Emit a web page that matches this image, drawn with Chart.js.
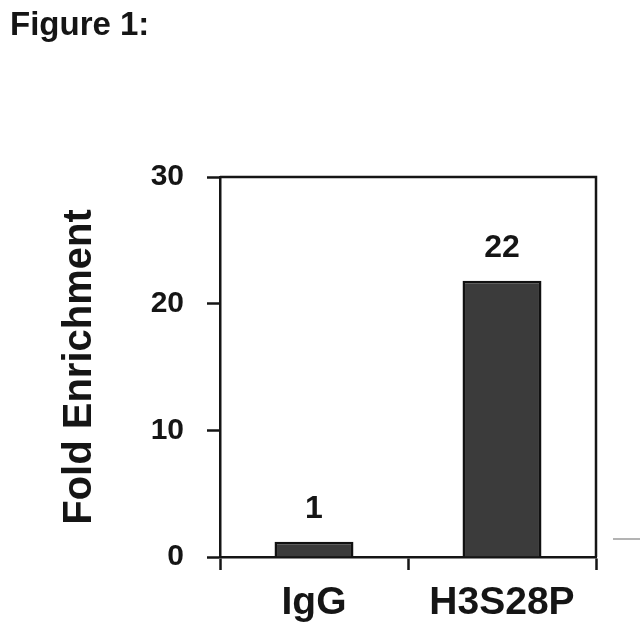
<!DOCTYPE html>
<html>
<head>
<meta charset="utf-8">
<script src="https://cdn.jsdelivr.net/npm/chart.js@4"></script>
<style>
  body { margin: 0; background: #fff; }
  canvas { display: block; }
</style>
</head>
<body>
<canvas id="chart" width="640" height="642"></canvas>
<script>
const categories = ["IgG", "H3S28P"];
const foldValues = [1.2, 21.8];
const valueLabels = ["1", "22"];
const yTicks = [0, 10, 20, 30];

const ink = "#151515";
const font = "'Liberation Sans', Arial, sans-serif";

// frame on top/right, bar value labels, figure caption
const extras = {
    id: "extras",
    afterDraw(chart) {
        const ctx = chart.ctx;
        const area = chart.chartArea;
        ctx.save();

        ctx.strokeStyle = ink;
        ctx.lineWidth = 2.5;
        ctx.beginPath();
        ctx.moveTo(area.left, area.top);
        ctx.lineTo(area.right, area.top);
        ctx.lineTo(area.right, area.bottom);
        ctx.stroke();

        ctx.strokeStyle = "#9a9a9a";
        ctx.lineWidth = 1.5;
        ctx.beginPath();
        ctx.moveTo(area.right + 17, area.bottom - 18);
        ctx.lineTo(640, area.bottom - 18);
        ctx.stroke();

        ctx.fillStyle = ink;
        ctx.font = "bold 32px " + font;
        ctx.textAlign = "center";
        ctx.textBaseline = "alphabetic";
        chart.getDatasetMeta(0).data.forEach((bar, i) => {
            ctx.fillText(valueLabels[i], bar.x, bar.y - 24);
        });

        ctx.font = "bold 33px " + font;
        ctx.textAlign = "left";
        ctx.fillText("Figure 1:", 10, 35);
        ctx.restore();
    }
};

new Chart(document.getElementById("chart"), {
    type: "bar",
    data: {
        labels: categories,
        datasets: [{
            data: foldValues,
            backgroundColor: "#3b3b3b",
            borderColor: "#111",
            borderWidth: 2.5,
            barPercentage: 0.42,
            categoryPercentage: 1
        }]
    },
    options: {
        responsive: false,
        animation: false,
        layout: { padding: { top: 177, right: 44, left: 0, bottom: 0 } },
        plugins: {
            legend: { display: false },
            tooltip: { enabled: false }
        },
        scales: {
            x: {
                afterFit(scale) { scale.height = 85; },
                grid: {
                    drawOnChartArea: false,
                    tickLength: 13,
                    tickWidth: 2.5,
                    tickColor: ink
                },
                border: { color: ink, width: 2.5 },
                ticks: {
                    color: ink,
                    padding: 10,
                    font: { family: font, size: 39, weight: "bold" }
                }
            },
            y: {
                min: 0,
                max: 30,
                afterFit(scale) { scale.width = 220; },
                afterBuildTicks(scale) {
                    scale.ticks = yTicks.map(v => ({ value: v }));
                },
                grid: {
                    drawOnChartArea: false,
                    tickLength: 13,
                    tickWidth: 2.5,
                    tickColor: ink
                },
                border: { color: ink, width: 2.5 },
                ticks: {
                    color: ink,
                    padding: 23,
                    font: { family: font, size: 30, weight: "bold" }
                },
                title: {
                    display: true,
                    text: "Fold Enrichment",
                    color: ink,
                    padding: { top: 56, bottom: 0 },
                    font: { family: font, size: 40, weight: "bold" }
                }
            }
        }
    },
    plugins: [extras]
});
</script>
</body>
</html>
